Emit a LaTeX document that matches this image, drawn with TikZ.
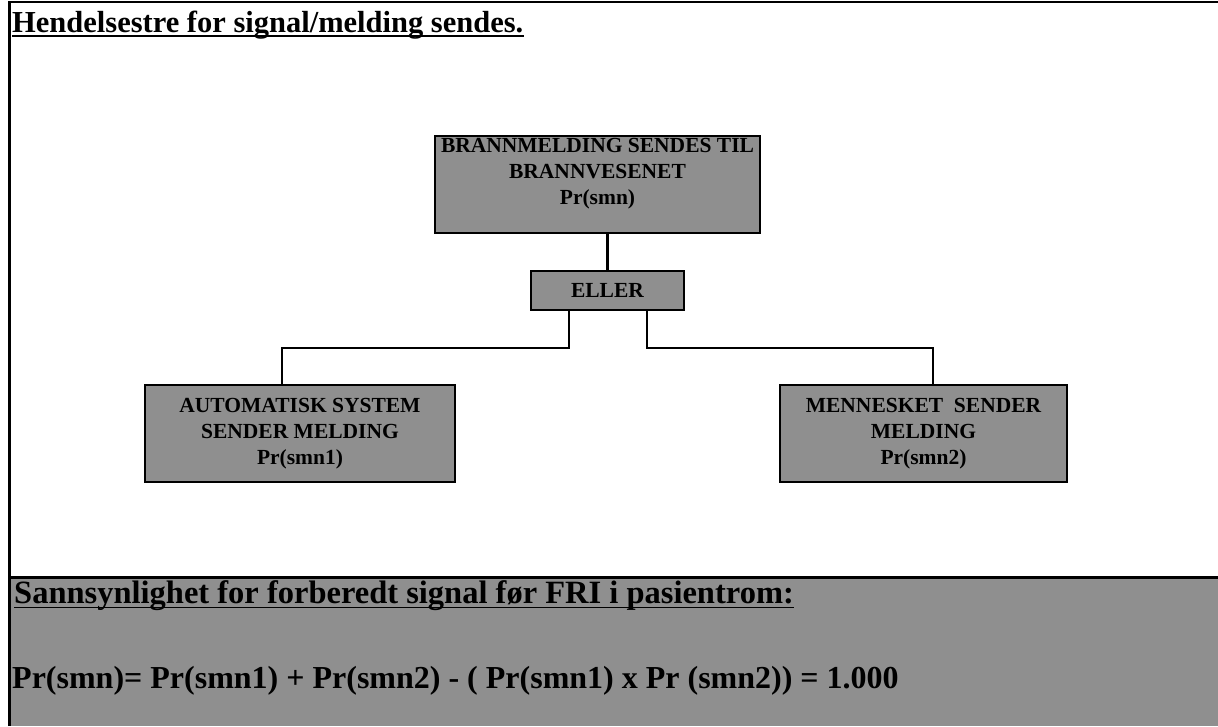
\documentclass[tikz,border=0pt]{standalone}
\usepackage{fontspec}
\setmainfont{Liberation Serif}
\begin{document}
\begin{tikzpicture}[x=1pt,y=-1pt,
  shade/.style={fill=black!44},
  eventbox/.style={draw=black, line width=2.4pt, shade, inner sep=0pt,
    align=center, font=\fontsize{21.5}{26}\selectfont\bfseries},
  link/.style={draw=black, line width=2.2pt},
  rule/.style={draw=black, line width=2.4pt},
  uline/.style={draw=black, line width=1.7pt},
  heading/.style={inner sep=0pt, anchor=base west}]
\useasboundingbox (0,0) rectangle (1218,726);

% lower panel and page frame
\fill[shade] (10,579) rectangle (1218,726);
\draw[rule] (9.5,726) -- (9.5,2) -- (1218,2);
\draw[rule] (9.5,577.5) -- (1218,577.5);

% title
\node[heading, font=\fontsize{30.5}{36}\selectfont\bfseries] (title) at (12,32)
  {Hendelsestre for signal/melding sendes.};
\draw[uline] ([yshift=-4pt]title.base west) -- ([yshift=-4pt]title.base east);

% event tree
\node[eventbox, minimum width=325pt, minimum height=97pt] (top) at (597.5,184.5)
  {BRANNMELDING SENDES TIL\\BRANNVESENET\\Pr(smn)\\[-8pt]\strut};
\node[eventbox, minimum width=153pt, minimum height=39pt] (eller) at (607.5,290.5)
  {ELLER};
\node[eventbox, minimum width=310pt, minimum height=97pt] (left) at (300,433.5)
  {AUTOMATISK SYSTEM\\SENDER MELDING\\Pr(smn1)};
\node[eventbox, minimum width=287pt, minimum height=97pt] (right) at (923.5,433.5)
  {MENNESKET\ \ SENDER\\MELDING\\Pr(smn2)};

\coordinate (jl) at (282,348);
\coordinate (jr) at (933,348);

\draw[link] (eller.north |- top.south) -- (eller.north);
\draw[link] ([xshift=-38.5pt]eller.south) |- (jl) -- (jl |- left.north);
\draw[link] ([xshift=39.5pt]eller.south) |- (jr) -- (jr |- right.north);

% probability panel
\node[heading, font=\fontsize{32.5}{38}\selectfont\bfseries] (ptitle) at (14,603)
  {Sannsynlighet for forberedt signal før FRI i pasientrom:};
\draw[uline] ([yshift=-4.5pt]ptitle.base west) -- ([yshift=-4.5pt]ptitle.base east);
\node[heading, font=\fontsize{32}{38}\selectfont\bfseries] (formula) at (12,688)
  {Pr(smn)= Pr(smn1) + Pr(smn2) - ( Pr(smn1) x Pr (smn2)) = 1.000};
\end{tikzpicture}
\end{document}
